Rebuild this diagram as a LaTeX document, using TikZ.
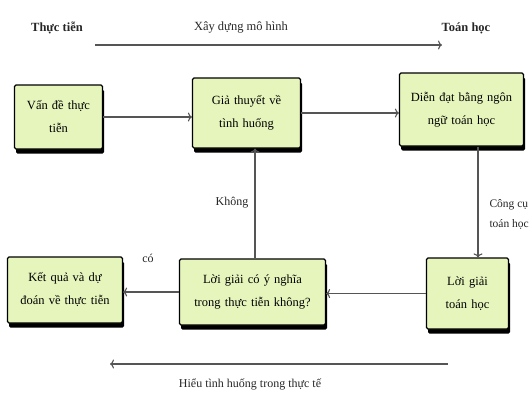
\documentclass[tikz,border=0pt]{standalone}
\usepackage{fontspec}
\setmainfont{Liberation Serif}
\usetikzlibrary{shadows,arrows.meta}
\definecolor{boxgreen}{RGB}{230,245,188}
\definecolor{linegray}{RGB}{85,85,85}
\tikzset{
	hop/.style={draw=linegray, line width=1.1pt, -{To[length=4pt,width=9pt]}},
	box/.style={draw=black, line width=1.2pt, fill=boxgreen, rounded corners=1.5pt, align=center, inner sep=2pt,
		font=\fontsize{12.5}{23}\selectfont,
		drop shadow={shadow xshift=1.5pt, shadow yshift=-4.5pt, fill=black, opacity=1}},
	lbl/.style={font=\fontsize{12}{14}\selectfont, text=black!85}
}
\begin{document}
\begin{tikzpicture}[x=1pt, y=-1pt]
		\useasboundingbox (0,0) rectangle (532,397);
		% header
		\node[lbl, font=\bfseries\fontsize{12.5}{14}\selectfont] (real) at (57,28) {Thực tiễn};
		\node[lbl, font=\bfseries\fontsize{12.5}{14}\selectfont] (math) at (466,28) {Toán học};
		\coordinate (topL) at (95,45);
		\coordinate (topR) at (442,45);
		\draw[hop] (topL) -- (topR);
		\node[lbl, font=\fontsize{12.5}{14}\selectfont] (build) at (241,27) {Xây dựng mô hình};
		% boxes
		\node[box, minimum width=87pt, minimum height=64pt, text width=84pt] (issue) at (58.5,117) {Vấn đề thực\\tiễn};
		\node[box, minimum width=107pt, minimum height=70pt, text width=104pt] (guess) at (246.5,113) {Giả thuyết về\\tình huống};
		\node[box, minimum width=123pt, minimum height=73pt, text width=120pt] (state) at (461.5,109.5) {Diễn đạt bằng ngôn\\ngữ toán học};
		\node[box, minimum width=81pt, minimum height=71pt, text width=78pt] (sol) at (467.5,293.5) {Lời giải\\toán học};
		\node[box, minimum width=145pt, minimum height=66pt, text width=142pt] (check) at (252.5,292) {Lời giải có ý nghĩa\\trong thực tiễn không?};
		\node[box, minimum width=114pt, minimum height=66pt, text width=111pt] (result) at (65,290) {Kết quả và dự\\đoán về thực tiễn};
		% connectors
		\coordinate (downX) at (478,0);
		\coordinate (upX) at (255,0);
		\draw[hop] (issue) -- (guess.west |- issue);
		\draw[hop] (guess) -- (state.west |- guess);
		\draw[hop] (state.south -| downX) -- (sol.north -| downX);
		\draw[hop] (sol) -- (check.east |- sol);
		\draw[hop] (check) -- (result.east |- check);
		\draw[hop] (check.north -| upX) -- (guess.south -| upX);
		\node[lbl] (no) at (232,203) {Không};
		\node[lbl] (yes) at (148,258) {có};
		\node[lbl, anchor=west, align=left, font=\fontsize{11.5}{20}\selectfont] (tool) at (486,214) {Công cụ\\toán học};
		% footer
		\coordinate (botR) at (448,364);
		\coordinate (botL) at (110,364);
		\draw[hop] (botR) -- (botL);
		\node[lbl] (grasp) at (250,384) {Hiểu tình huống trong thực tế};
\end{tikzpicture}
\end{document}
